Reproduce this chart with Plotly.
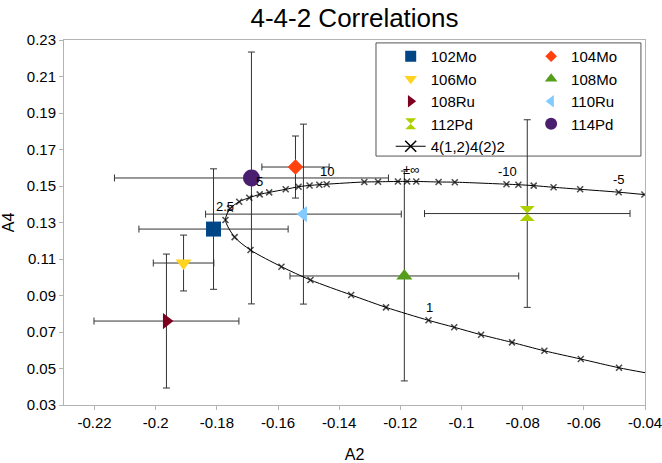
import plotly.graph_objects as go

# ---- data ----
names = ["102Mo", "104Mo", "106Mo", "108Mo", "108Ru", "110Ru", "112Pd", "114Pd"]
a2 = [-0.1811, -0.1543, -0.1909, -0.1187, -0.1965, -0.1517, -0.0785, -0.1687]
a4 = [0.1264, 0.1604, 0.1078, 0.1007, 0.0760, 0.1346, 0.1349, 0.1544]
a2_err = [0.0244, 0.0110, 0.0099, 0.0374, 0.0237, 0.0320, 0.0336, 0.0448]
a4_err = [0.0330, 0.0170, 0.0153, 0.0575, 0.0367, 0.0493, 0.0514, 0.0690]
colors = ["#004586", "#ff420e", "#ffd320", "#579d1c", "#7e0021", "#83caff", "#aecf00", "#4b1f6f"]
symbols = ["square", "diamond", "triangle-down", "triangle-up", "triangle-right",
           "triangle-left", "hourglass", "circle"]
sizes = [15, 12, 14, 14, 14, 14, 15, 17]
legend_sizes = [11, 9, 11, 11, 11, 11, 11, 12]

curve_name = "4(1,2)4(2)2"
curve_a2 = [-0.0400, -0.0485, -0.0610, -0.0729, -0.0835, -0.0936, -0.1024, -0.1108,
            -0.1247, -0.1361, -0.1494, -0.1589, -0.1690, -0.1742, -0.1772,
            -0.1757, -0.1727, -0.1694, -0.1660, -0.1629, -0.1575, -0.1533, -0.1497,
            -0.1465, -0.1441, -0.1318, -0.1273, -0.1208, -0.1178, -0.1148, -0.1075,
            -0.1022, -0.0853, -0.0814, -0.0764, -0.0699, -0.0612, -0.0486, -0.0402]
curve_a4 = [0.0477, 0.0504, 0.0552, 0.0597, 0.0643, 0.0685, 0.0726, 0.0764,
            0.0835, 0.0903, 0.0985, 0.1058, 0.1149, 0.1220, 0.1314,
            0.1376, 0.1414, 0.1436, 0.1454, 0.1465, 0.1482, 0.1496, 0.1503,
            0.1507, 0.1510, 0.1522, 0.1523, 0.1525, 0.1525, 0.1525, 0.1522,
            0.1521, 0.1510, 0.1507, 0.1502, 0.1493, 0.1482, 0.1466, 0.1453]
curve_marker_sizes = [0] + [6] * (len(curve_a2) - 1)

label_text = ["2.5", "5", "10", "±∞", "-10", "-5", "1"]
label_a2 = [-0.1772, -0.1661, -0.1439, -0.1164, -0.0851, -0.0485, -0.1105]
label_a4 = [0.1390, 0.1522, 0.1582, 0.1588, 0.1578, 0.1533, 0.0835]

x_tickvals = [-0.22, -0.20, -0.18, -0.16, -0.14, -0.12, -0.10, -0.08, -0.06, -0.04]
x_ticktext = ["-0.22", "-0.2", "-0.18", "-0.16", "-0.14", "-0.12", "-0.1", "-0.08", "-0.06", "-0.04"]
y_tickvals = [0.03, 0.05, 0.07, 0.09, 0.11, 0.13, 0.15, 0.17, 0.19, 0.21, 0.23]
y_ticktext = ["0.03", "0.05", "0.07", "0.09", "0.11", "0.13", "0.15", "0.17", "0.19", "0.21", "0.23"]

FONT = "Liberation Sans, Arial, sans-serif"
ERRC = "#333333"

fig = go.Figure()

legend_of = ["legend", "legend2", "legend", "legend2", "legend", "legend2", "legend", "legend2"]

# data traces (no legend entries; legend handled by compact proxy entries)
for i, n in enumerate(names):
    fig.add_trace(go.Scatter(
        x=[a2[i]], y=[a4[i]], mode="markers", name=n, showlegend=False,
        marker=dict(symbol=symbols[i], size=sizes[i], color=colors[i], line=dict(width=0)),
        error_x=dict(type="data", array=[a2_err[i]], color=ERRC, thickness=1, width=3.5),
        error_y=dict(type="data", array=[a4_err[i]], color=ERRC, thickness=1, width=3.5),
    ))

fig.add_trace(go.Scatter(
    x=curve_a2, y=curve_a4, mode="lines+markers", name=curve_name, showlegend=False,
    line=dict(color="black", width=1, shape="spline", smoothing=0.8),
    marker=dict(symbol="x-thin", size=curve_marker_sizes, color="black",
                line=dict(color="black", width=1.5)),
))

# legend entries
for i, n in enumerate(names):
    fig.add_trace(go.Scatter(
        x=[None], y=[None], mode="markers", name=n, legend=legend_of[i],
        marker=dict(symbol=symbols[i], size=legend_sizes[i], color=colors[i], line=dict(width=0)),
    ))
fig.add_trace(go.Scatter(
    x=[None], y=[None], mode="lines+markers", name=curve_name, legend="legend",
    line=dict(color="black", width=1),
    marker=dict(symbol="x-thin", size=11, color="black", line=dict(color="black", width=1.5)),
))

for t, xx, yy in zip(label_text, label_a2, label_a4):
    fig.add_annotation(x=xx, y=yy, text=t, showarrow=False,
                       font=dict(family=FONT, size=13, color="black"))

# legend frame
fig.add_shape(type="rect", xref="paper", yref="paper",
              x0=0.537, x1=0.993, y0=0.682, y1=0.992,
              line=dict(color="#555555", width=1), fillcolor="white", layer="below")

leg_common = dict(font=dict(family=FONT, size=15, color="black"),
                  bgcolor="rgba(0,0,0,0)", borderwidth=0,
                  yanchor="top", xanchor="left", tracegroupgap=0)
fig.update_layout(
    width=662, height=463,
    margin=dict(l=64, r=17, t=40, b=58, autoexpand=False),
    paper_bgcolor="white", plot_bgcolor="white",
    font=dict(family=FONT, color="black"),
    title=dict(text="4-4-2 Correlations", x=0.5, xref="paper", xanchor="center",
               y=0.962, yanchor="middle", font=dict(family=FONT, size=26, color="black")),
    legend=dict(x=0.5623, y=1.0, **leg_common),
    legend2=dict(x=0.804, y=1.0, **leg_common),
    xaxis=dict(range=[-0.23, -0.04], tickvals=x_tickvals, ticktext=x_ticktext,
               showgrid=False, zeroline=False, showline=True, mirror=True, automargin=False,
               ticklabeloverflow="allow",
               linecolor="#b3b3b3", linewidth=1, ticks="outside", ticklen=4,
               tickcolor="#b3b3b3", tickfont=dict(family=FONT, size=15, color="black"),
               title=dict(text="A2", font=dict(family=FONT, size=16, color="black"), standoff=20)),
    yaxis=dict(range=[0.03, 0.23], tickvals=y_tickvals, ticktext=y_ticktext,
               showgrid=False, zeroline=False, showline=True, mirror=True, automargin=False,
               ticklabeloverflow="allow",
               linecolor="#b3b3b3", linewidth=1, ticks="outside", ticklen=4,
               tickcolor="#b3b3b3", tickfont=dict(family=FONT, size=15, color="black"),
               title=dict(text="A4", font=dict(family=FONT, size=16, color="black"), standoff=8)),
)

fig.write_html("out.html")
